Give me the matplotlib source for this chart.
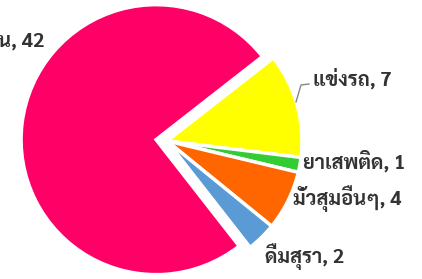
import matplotlib
matplotlib.use("Agg")
import matplotlib.pyplot as plt
import numpy as np

plt.rcParams['font.family'] = ['Sarabun', 'DejaVu Sans']

# data
labels = ['เที่ยวกลางคืน', 'แข่งรถ', 'ยาเสพติด', 'มั่วสุมอื่นๆ', 'ดื่มสุรา']
values = [42, 7, 1, 4, 2]
colors = ['#ff0066', '#ffff00', '#33cc33', '#ff6600', '#5b9bd5']

# label layout in pixels (x, y from top, horizontal alignment)
label_pos = [(44, 39, 'right'), (313, 79, 'left'), (303, 161, 'left'),
             (293, 199, 'left'), (265, 257, 'left')]

W, H = 422, 279
fig = plt.figure(figsize=(W / 100, H / 100), dpi=100)
ax = fig.add_axes([0, 0, 1, 1])
ax.axis('off')

R = 135
explode = [11, 0, 0, 0, 0]
wedges, _ = ax.pie(values, colors=colors, explode=explode, startangle=308,
                   counterclock=False, radius=R, center=(167, H - 141),
                   wedgeprops=dict(edgecolor='white', linewidth=2.5))
ax.set_xlim(0, W)
ax.set_ylim(0, H)
ax.set_aspect('auto')

for lab, v, (x, y, ha) in zip(labels, values, label_pos):
    ax.text(x, H - y, f'{lab}, {v}', ha=ha, va='center', fontsize=14.5,
            fontweight='bold', color='#333333')

# connector for the yellow slice label
ax.plot([296, 301, 309], [H - 102, H - 85, H - 84], color='#888888', lw=1)

fig.savefig('out.png', dpi=100)
